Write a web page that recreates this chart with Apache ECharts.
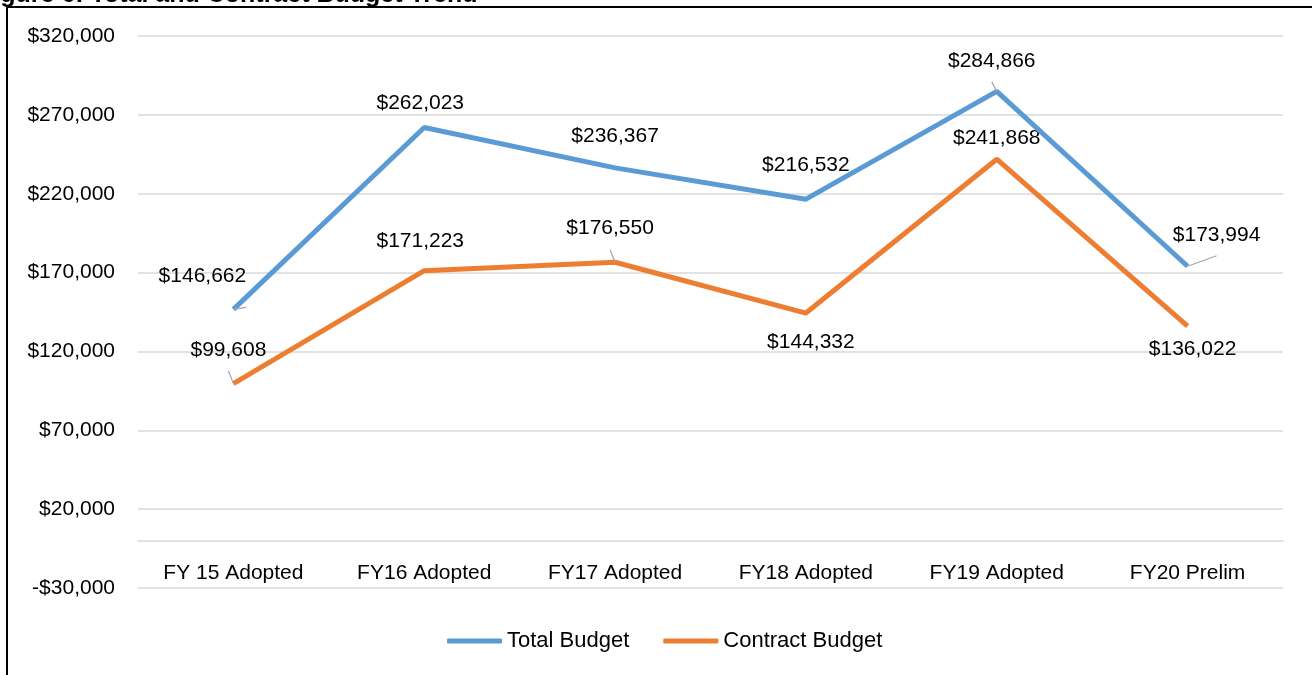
<!DOCTYPE html>
<html>
<head>
<meta charset="utf-8">
<script src="https://cdn.jsdelivr.net/npm/echarts@6/dist/echarts.min.js"></script>
<style>html,body{margin:0;padding:0;background:#fff}#c{width:1312px;height:675px}</style>
</head>
<body>
<div id="c"></div>
<script>
const categories = ['FY 15 Adopted', 'FY16 Adopted', 'FY17 Adopted', 'FY18 Adopted', 'FY19 Adopted', 'FY20 Prelim'];
const totalBudget = [146662, 262023, 236367, 216532, 284866, 173994];
const contractBudget = [99608, 171223, 176550, 144332, 241868, 136022];
const seriesNames = ['Total Budget', 'Contract Budget'];
const titleText = 'Figure 6: Total and Contract Budget Trend';

// label placement (offsets from default top position) and leader-line flags
const totalOffsets = [[-31, -18], [-4, -9], [0, -16], [0, -18], [-5, -15], [29, -16]];
const totalLeader = [true, false, false, false, true, true];
const contractOffsets = [[-5, -18], [-4, -14], [-5, -18], [5, 45], [0, -5], [5, 39]];
const contractLeader = [true, false, true, false, false, false];

const FONT = 'Liberation Sans';
const FS = 21;
const fmt = v => (v < 0 ? '-$' : '$') + Math.abs(v).toLocaleString('en-US');

function buildData(vals, offs, leaders) {
  return vals.map((v, i) => ({
    value: v,
    label: { offset: offs[i] },
    labelLine: { show: leaders[i] }
  }));
}

const chart = echarts.init(document.getElementById('c'));
chart.setOption({
  animation: false,
  textStyle: { fontFamily: FONT },
  graphic: [
    { type: 'rect', shape: { x: 7, y: 7, width: 1400, height: 800 }, style: { fill: 'none', stroke: '#000', lineWidth: 2 }, silent: true, z: 10 },
    { type: 'text', left: -22, top: -17, style: { text: titleText, font: 'bold 25px ' + FONT, fill: '#000' } }
  ],
  grid: { left: 138, right: 29, top: 36, bottom: 87 },
  legend: {
    left: 442, top: 625,
    itemWidth: 55, itemHeight: 5, itemGap: 34,
    icon: 'roundRect',
    textStyle: { fontSize: 22, color: '#000', fontFamily: FONT },
    data: seriesNames
  },
  xAxis: {
    type: 'category',
    data: categories,
    boundaryGap: true,
    axisLine: { onZero: true, lineStyle: { color: '#d9d9d9', width: 1.5 } },
    axisTick: { show: false },
    axisLabel: { fontSize: FS, color: '#000', margin: -25, fontFamily: FONT }
  },
  yAxis: {
    type: 'value',
    min: -30000, max: 320000, interval: 50000,
    axisLine: { show: false },
    axisTick: { show: false },
    splitLine: { lineStyle: { color: '#d9d9d9', width: 1.5 } },
    axisLabel: { fontSize: FS, color: '#000', margin: 23, formatter: fmt, fontFamily: FONT }
  },
  series: [
    {
      name: seriesNames[0], type: 'line',
      data: buildData(totalBudget, totalOffsets, totalLeader),
      symbol: 'circle', symbolSize: 0.1, showSymbol: true,
      lineStyle: { color: '#5B9BD5', width: 5 },
      itemStyle: { color: '#5B9BD5' },
      label: { show: true, position: 'top', fontSize: FS, color: '#000', fontFamily: FONT, formatter: p => fmt(p.value) },
      labelLine: { lineStyle: { color: '#a6a6a6', width: 1.2 } },
      z: 3
    },
    {
      name: seriesNames[1], type: 'line',
      data: buildData(contractBudget, contractOffsets, contractLeader),
      symbol: 'circle', symbolSize: 0.1, showSymbol: true,
      lineStyle: { color: '#ED7D31', width: 5 },
      itemStyle: { color: '#ED7D31' },
      label: { show: true, position: 'top', fontSize: FS, color: '#000', fontFamily: FONT, formatter: p => fmt(p.value) },
      labelLine: { lineStyle: { color: '#a6a6a6', width: 1.2 } },
      z: 2
    }
  ]
});
</script>
</body>
</html>
